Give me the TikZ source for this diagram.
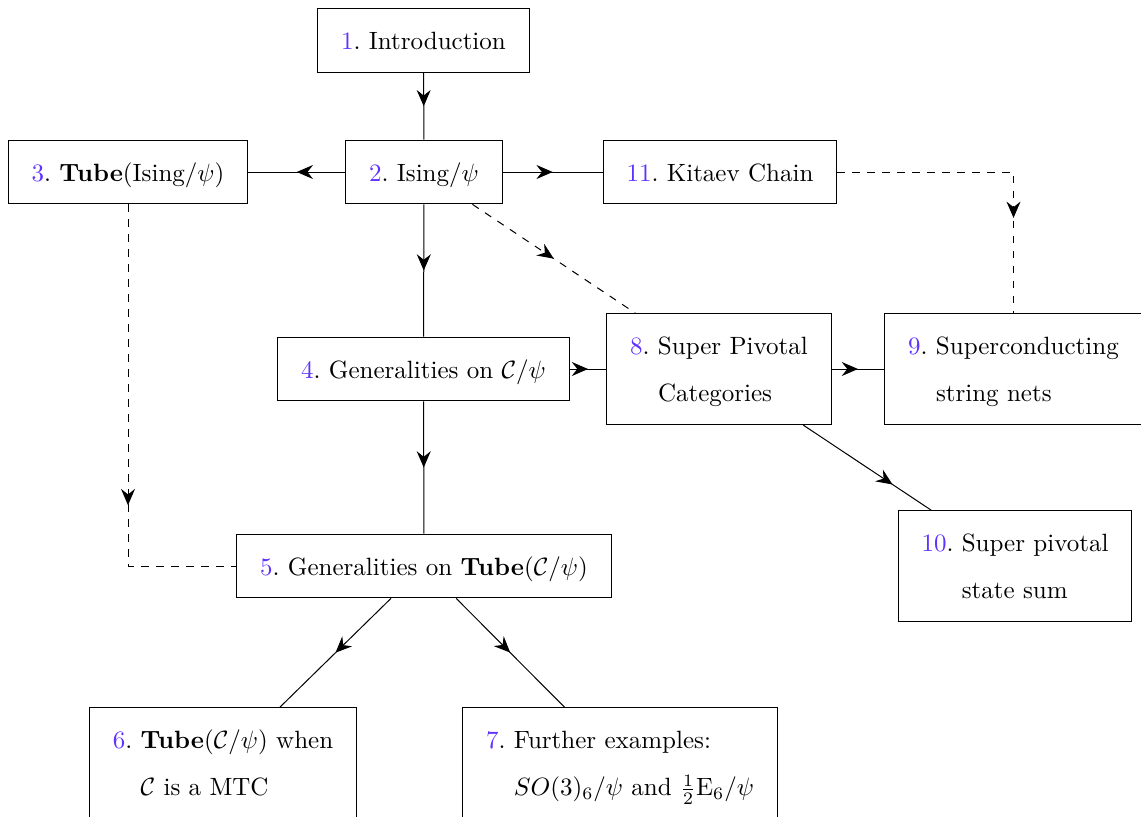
\documentclass[tikz,border=0pt]{standalone}
\usepackage{amsmath}
\usetikzlibrary{arrows.meta,decorations.markings}
\definecolor{secblue}{RGB}{95,50,255}
\newcommand{\sn}[1]{\textcolor{secblue}{#1}.\kern3.33pt}
\renewcommand{\arraystretch}{1.57}
\begin{document}
\begin{tikzpicture}[x=0.4pt,y=-0.4pt,
  box/.style={draw, line width=0.4pt, inner sep=3.33pt},
  conn/.style={line width=0.4pt},
  marr/.style={postaction={decorate}, decoration={markings,
      mark=at position #1 with {\arrow{Stealth[length=6.5pt,width=5.6pt,inset=2.2pt]}}}},
  marr/.default=0.5]
\clip (0,0) rectangle (1141,816);
\node[box] (n1) at (423.5,40.5) {\begin{tabular}{l@{}l}\sn{1}&Introduction\end{tabular}};
\node[box] (n2) at (424,172) {\begin{tabular}{l@{}l}\sn{2}&Ising$/\psi$\end{tabular}};
\node[box] (n3) at (128,172) {\begin{tabular}{l@{}l}\sn{3}&\textbf{Tube}(Ising$/\psi$)\end{tabular}};
\node[box] (n11) at (720,172) {\begin{tabular}{l@{}l}\sn{11}&Kitaev Chain\end{tabular}};
\node[box] (n4) at (423.5,369) {\begin{tabular}{l@{}l}\sn{4}&Generalities on $\mathcal{C}/\psi$\end{tabular}};
\node[box] (n8) at (719,369) {\begin{tabular}{l@{}l}\sn{8}&Super Pivotal\\&Categories\end{tabular}};
\node[box] (n9) at (1013.5,369) {\begin{tabular}{l@{}l}\sn{9}&Superconducting\\&string nets\end{tabular}};
\node[box] (n10) at (1015,566) {\begin{tabular}{l@{}l}\sn{10}&Super pivotal\\&state sum\end{tabular}};
\node[box] (n5) at (424,566) {\begin{tabular}{l@{}l}\sn{5}&Generalities on \textbf{Tube}$(\mathcal{C}/\psi)$\end{tabular}};
\node[box] (n6) at (223,763) {\begin{tabular}{l@{}l}\sn{6}&\textbf{Tube}$(\mathcal{C}/\psi)$ when\\&$\mathcal{C}$ is a MTC\end{tabular}};
\node[box] (n7) at (620,763) {\begin{tabular}{l@{}l}\sn{7}&Further examples:\\&$SO(3)_6/\psi$ and $\frac{1}{2}\mathrm{E}_6/\psi$\end{tabular}};

\draw[conn,marr] (n1) -- (n2);
\draw[conn,marr] (n2) -- (n3);
\draw[conn,marr] (n2) -- (n11);
\draw[conn,marr] (n2) -- (n4);
\draw[conn,dashed,marr] (n2) -- (n8);
\draw[conn,marr] (n4) -- (n8);
\draw[conn,marr] (n8) -- (n9);
\draw[conn,marr=0.7] (n8) -- (n10);
\draw[conn,marr] (n4) -- (n5);
\draw[conn,marr] (n5) -- (n6);
\draw[conn,marr] (n5) -- (n7);
\draw[conn,dashed,marr=0.64] (n3) |- (n5);
\draw[conn,dashed,marr=0.7] (n11) -| (n9);
\end{tikzpicture}
\end{document}
